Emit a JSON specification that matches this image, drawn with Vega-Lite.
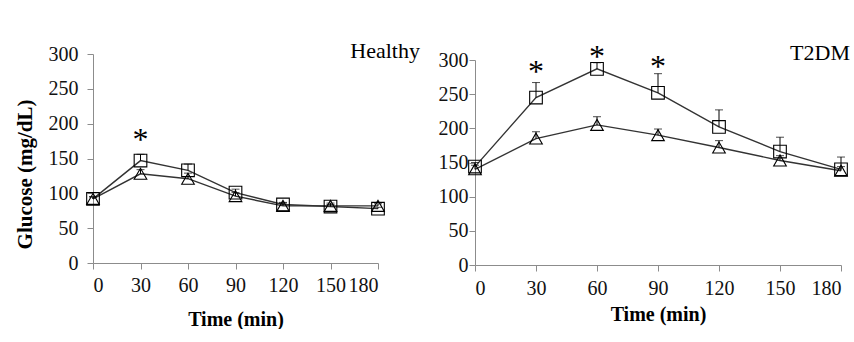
{
  "$schema": "https://vega.github.io/schema/vega-lite/v6.json",
  "padding": {"left": 13, "top": 40, "right": 0, "bottom": 0},
  "background": "white",
  "bounds": "flush",
  "spacing": 97,
  "datasets": {
    "glucose": [
      {"panel": "Healthy", "group": "Square", "time": 0, "glucose": 92, "upper": 95},
      {"panel": "Healthy", "group": "Square", "time": 30, "glucose": 147, "upper": 156},
      {"panel": "Healthy", "group": "Square", "time": 60, "glucose": 133, "upper": 142},
      {"panel": "Healthy", "group": "Square", "time": 90, "glucose": 101, "upper": 106},
      {"panel": "Healthy", "group": "Square", "time": 120, "glucose": 84, "upper": 87},
      {"panel": "Healthy", "group": "Square", "time": 150, "glucose": 81, "upper": 84},
      {"panel": "Healthy", "group": "Square", "time": 180, "glucose": 78, "upper": 80},
      {"panel": "Healthy", "group": "Triangle", "time": 0, "glucose": 92, "upper": 95},
      {"panel": "Healthy", "group": "Triangle", "time": 30, "glucose": 128, "upper": 134},
      {"panel": "Healthy", "group": "Triangle", "time": 60, "glucose": 121, "upper": 129},
      {"panel": "Healthy", "group": "Triangle", "time": 90, "glucose": 96, "upper": 101},
      {"panel": "Healthy", "group": "Triangle", "time": 120, "glucose": 82, "upper": 86},
      {"panel": "Healthy", "group": "Triangle", "time": 150, "glucose": 82, "upper": 86},
      {"panel": "Healthy", "group": "Triangle", "time": 180, "glucose": 82, "upper": 85},
      {"panel": "T2DM", "group": "Square", "time": 0, "glucose": 144, "upper": 150},
      {"panel": "T2DM", "group": "Square", "time": 30, "glucose": 245, "upper": 267},
      {"panel": "T2DM", "group": "Square", "time": 60, "glucose": 287, "upper": 296},
      {"panel": "T2DM", "group": "Square", "time": 90, "glucose": 252, "upper": 280},
      {"panel": "T2DM", "group": "Square", "time": 120, "glucose": 202, "upper": 227},
      {"panel": "T2DM", "group": "Square", "time": 150, "glucose": 166, "upper": 187},
      {"panel": "T2DM", "group": "Square", "time": 180, "glucose": 140, "upper": 158},
      {"panel": "T2DM", "group": "Triangle", "time": 0, "glucose": 140, "upper": 146},
      {"panel": "T2DM", "group": "Triangle", "time": 30, "glucose": 185, "upper": 195},
      {"panel": "T2DM", "group": "Triangle", "time": 60, "glucose": 205, "upper": 217},
      {"panel": "T2DM", "group": "Triangle", "time": 90, "glucose": 190, "upper": 199},
      {"panel": "T2DM", "group": "Triangle", "time": 120, "glucose": 172, "upper": 182},
      {"panel": "T2DM", "group": "Triangle", "time": 150, "glucose": 153, "upper": 160},
      {"panel": "T2DM", "group": "Triangle", "time": 180, "glucose": 138, "upper": 144}
    ],
    "stars": [
      {"panel": "Healthy", "time": 30, "y": 182},
      {"panel": "T2DM", "time": 30, "y": 288},
      {"panel": "T2DM", "time": 60, "y": 310},
      {"panel": "T2DM", "time": 90, "y": 296}
    ]
  },
  "config": {
    "font": "Liberation Serif",
    "view": {"stroke": null},
    "axis": {
      "grid": false,
      "domainColor": "#8c8c8c",
      "tickColor": "#8c8c8c",
      "tickSize": 6,
      "labelOverlap": false,
      "labelFont": "Liberation Serif",
      "labelFontSize": 20,
      "labelColor": "#111",
      "titleFont": "Liberation Serif",
      "titleFontSize": 20,
      "titleFontWeight": "bold",
      "titleColor": "#000"
    }
  },
  "hconcat": [
    {
      "width": 285,
      "height": 209,
      "layer": [
        {
          "data": {"name": "glucose"},
          "transform": [{"filter": "datum.panel === 'Healthy'"}],
          "encoding": {
            "x": {"field": "time", "type": "quantitative", "scale": {"domain": [0, 180], "nice": false},
                  "axis": {"values": [0, 30, 60, 90, 120, 150, 180], "title": "Time (min)", "labelPadding": 6, "titleY": 56, "titleBaseline": "middle"}},
            "y": {"field": "glucose", "type": "quantitative", "scale": {"domain": [0, 300], "nice": false},
                  "axis": {"values": [0, 50, 100, 150, 200, 250, 300], "title": "Glucose (mg/dL)", "titleFontSize": 21, "labelPadding": 9, "titleX": -68, "titleY": 120, "titleBaseline": "middle"}}
          },
          "layer": [
            {"mark": {"type": "line", "color": "#333", "strokeWidth": 1.4}, "encoding": {"detail": {"field": "group"}}},
            {"mark": {"type": "point", "filled": false, "stroke": "black", "strokeWidth": 1.1, "size": 160, "opacity": 1},
             "encoding": {"shape": {"field": "group", "scale": {"domain": ["Square", "Triangle"], "range": ["square", "triangle-up"]}, "legend": null}}},
            {"mark": {"type": "rule", "color": "black", "strokeWidth": 1}, "encoding": {"y2": {"field": "upper"}}},
            {"mark": {"type": "tick", "orient": "horizontal", "color": "black", "size": 8, "thickness": 1}, "encoding": {"y": {"field": "upper", "type": "quantitative",
                  "axis": {"values": [0, 50, 100, 150, 200, 250, 300], "title": "Glucose (mg/dL)", "titleFontSize": 21, "labelPadding": 9, "titleX": -68, "titleY": 120, "titleBaseline": "middle"}}}}
          ]
        },
        {
          "data": {"name": "stars"},
          "transform": [{"filter": "datum.panel === 'Healthy'"}],
          "mark": {"type": "text", "text": "*", "fontSize": 32, "fontWeight": "normal", "baseline": "middle", "dy": 4, "color": "black"},
          "encoding": {
            "x": {"field": "time", "type": "quantitative",
                  "axis": {"values": [0, 30, 60, 90, 120, 150, 180], "title": "Time (min)", "labelPadding": 6, "titleY": 56, "titleBaseline": "middle"}},
            "y": {"field": "y", "type": "quantitative",
                  "axis": {"values": [0, 50, 100, 150, 200, 250, 300], "title": "Glucose (mg/dL)", "titleFontSize": 21, "labelPadding": 9, "titleX": -68, "titleY": 120, "titleBaseline": "middle"}}
          }
        },
        {
          "data": {"values": [{"label": "Healthy"}]},
          "mark": {"type": "text", "fontSize": 22, "align": "right", "baseline": "alphabetic", "dx": 42, "dy": 4, "color": "black"},
          "encoding": {
            "x": {"datum": 180, "type": "quantitative",
                  "axis": {"values": [0, 30, 60, 90, 120, 150, 180], "title": "Time (min)", "labelPadding": 6, "titleY": 56, "titleBaseline": "middle"}},
            "y": {"datum": 300, "type": "quantitative",
                  "axis": {"values": [0, 50, 100, 150, 200, 250, 300], "title": "Glucose (mg/dL)", "titleFontSize": 21, "labelPadding": 9, "titleX": -68, "titleY": 120, "titleBaseline": "middle"}},
            "text": {"field": "label"}
          }
        }
      ]
    },
    {
      "width": 366,
      "height": 211,
      "layer": [
        {
          "data": {"name": "glucose"},
          "transform": [{"filter": "datum.panel === 'T2DM'"}],
          "encoding": {
            "x": {"field": "time", "type": "quantitative", "scale": {"domain": [0, 180], "nice": false},
                  "axis": {"values": [0, 30, 60, 90, 120, 150, 180], "title": "Time (min)", "labelPadding": 7, "titleY": 49, "titleBaseline": "middle"}},
            "y": {"field": "glucose", "type": "quantitative", "scale": {"domain": [0, 300], "nice": false, "range": [211, 6]},
                  "axis": {"values": [0, 50, 100, 150, 200, 250, 300], "title": null, "labelPadding": 1}}
          },
          "layer": [
            {"mark": {"type": "line", "color": "#333", "strokeWidth": 1.4}, "encoding": {"detail": {"field": "group"}}},
            {"mark": {"type": "point", "filled": false, "stroke": "black", "strokeWidth": 1.1, "size": 160, "opacity": 1},
             "encoding": {"shape": {"field": "group", "scale": {"domain": ["Square", "Triangle"], "range": ["square", "triangle-up"]}, "legend": null}}},
            {"mark": {"type": "rule", "color": "black", "strokeWidth": 1}, "encoding": {"y2": {"field": "upper"}}},
            {"mark": {"type": "tick", "orient": "horizontal", "color": "black", "size": 8, "thickness": 1}, "encoding": {"y": {"field": "upper", "type": "quantitative",
                  "axis": {"values": [0, 50, 100, 150, 200, 250, 300], "title": null, "labelPadding": 1}}}}
          ]
        },
        {
          "data": {"name": "stars"},
          "transform": [{"filter": "datum.panel === 'T2DM'"}],
          "mark": {"type": "text", "text": "*", "fontSize": 32, "fontWeight": "normal", "baseline": "middle", "dy": 4, "color": "black"},
          "encoding": {
            "x": {"field": "time", "type": "quantitative",
                  "axis": {"values": [0, 30, 60, 90, 120, 150, 180], "title": "Time (min)", "labelPadding": 7, "titleY": 49, "titleBaseline": "middle"}},
            "y": {"field": "y", "type": "quantitative",
                  "axis": {"values": [0, 50, 100, 150, 200, 250, 300], "title": null, "labelPadding": 1}}
          }
        },
        {
          "data": {"values": [{"label": "T2DM"}]},
          "mark": {"type": "text", "fontSize": 22, "align": "right", "baseline": "alphabetic", "dx": 9, "dy": 0, "color": "black"},
          "encoding": {
            "x": {"datum": 180, "type": "quantitative",
                  "axis": {"values": [0, 30, 60, 90, 120, 150, 180], "title": "Time (min)", "labelPadding": 7, "titleY": 49, "titleBaseline": "middle"}},
            "y": {"datum": 300, "type": "quantitative",
                  "axis": {"values": [0, 50, 100, 150, 200, 250, 300], "title": null, "labelPadding": 1}},
            "text": {"field": "label"}
          }
        }
      ]
    }
  ]
}
